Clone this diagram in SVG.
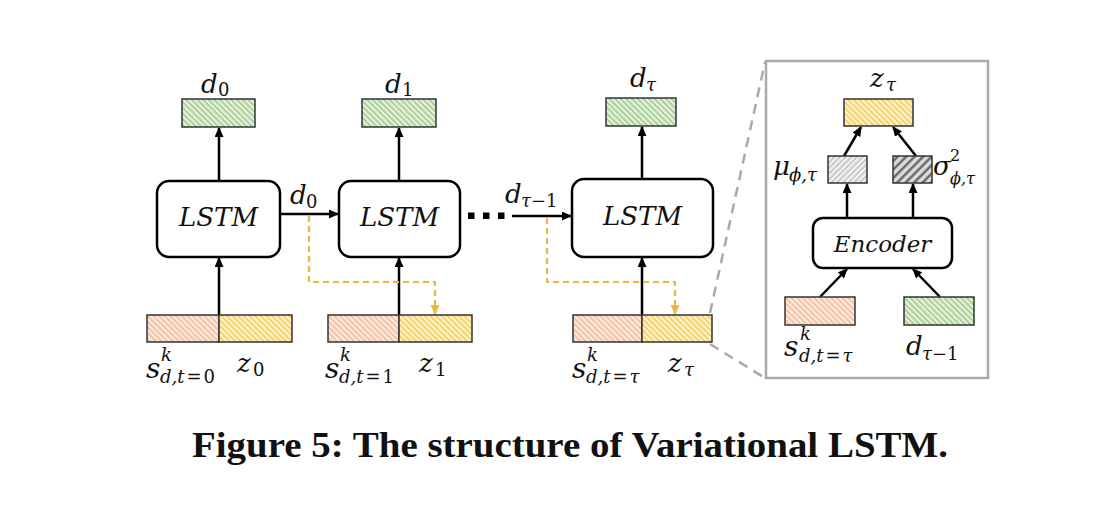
<svg xmlns="http://www.w3.org/2000/svg" width="1110" height="509" viewBox="0 0 1110 509">
<defs>
<pattern id="pGreen" width="4" height="4" patternUnits="userSpaceOnUse" patternTransform="rotate(-45)">
<rect width="4" height="4" fill="#e6f1de"/><line x1="1" y1="0" x2="1" y2="4" stroke="#9cc784" stroke-width="1.5"/></pattern>
<pattern id="pPink" width="4" height="4" patternUnits="userSpaceOnUse" patternTransform="rotate(-45)">
<rect width="4" height="4" fill="#fcebe0"/><line x1="1" y1="0" x2="1" y2="4" stroke="#f0b695" stroke-width="1.5"/></pattern>
<pattern id="pYellow" width="4" height="4" patternUnits="userSpaceOnUse" patternTransform="rotate(-45)">
<rect width="4" height="4" fill="#fff4cf"/><line x1="1" y1="0" x2="1" y2="4" stroke="#f2cd5c" stroke-width="1.7"/></pattern>
<pattern id="pLGray" width="4" height="4" patternUnits="userSpaceOnUse" patternTransform="rotate(45)">
<rect width="4" height="4" fill="#f3f3f3"/><line x1="1" y1="0" x2="1" y2="4" stroke="#bdbdbd" stroke-width="1.5"/></pattern>
<pattern id="pDGray" width="6" height="6" patternUnits="userSpaceOnUse" patternTransform="rotate(45)">
<rect width="6" height="6" fill="#dcdcdc"/><line x1="1.5" y1="0" x2="1.5" y2="6" stroke="#5a5a5a" stroke-width="2.2"/></pattern>
<marker id="ah" markerWidth="10" markerHeight="9" refX="9" refY="4.5" orient="auto" markerUnits="userSpaceOnUse">
<path d="M0,0 L10,4.5 L0,9 Z" fill="#000"/></marker>
<marker id="ahY" markerWidth="10" markerHeight="9" refX="9" refY="4.5" orient="auto" markerUnits="userSpaceOnUse">
<path d="M0,0 L10,4.5 L0,9 Z" fill="#ebb73f"/></marker>
</defs>
<style>
.box{stroke:#333;stroke-width:1.5}
.blk{fill:#fff;stroke:#000;stroke-width:2.5}
.arr{fill:none;stroke:#000;stroke-width:2.5;marker-end:url(#ah)}
.ydash{fill:none;stroke:#ebb73f;stroke-width:2.2;stroke-dasharray:6 4;marker-end:url(#ahY)}
.gdash{fill:none;stroke:#aaa;stroke-width:2.5;stroke-dasharray:10 7}
.m{font-family:"DejaVu Serif",serif;font-style:italic;font-size:26px;fill:#111}
.sb{font-family:"DejaVu Serif",serif;font-style:italic;font-size:18px;fill:#111}
.up{font-style:normal}
.lbl{font-family:"DejaVu Serif",serif;font-style:italic;font-size:26px;fill:#111;text-anchor:middle}
.cap{font-family:"Liberation Serif",serif;font-weight:bold;font-size:36px;fill:#111}
</style>

<g id="connectors">
<line class="arr" x1="219" y1="181" x2="219" y2="128"/>
<line class="arr" x1="219" y1="315" x2="219" y2="258"/>
<line class="arr" x1="399" y1="181" x2="399" y2="128"/>
<line class="arr" x1="399" y1="315" x2="399" y2="258"/>
<line class="arr" x1="642" y1="179" x2="642" y2="127"/>
<line class="arr" x1="642" y1="315" x2="642" y2="258"/>
<line class="arr" x1="280" y1="214" x2="338" y2="214"/>
<line class="arr" x1="512" y1="216" x2="571" y2="216"/>
<polyline class="ydash" points="309,216 309,282 435,282 435,314"/>
<polyline class="ydash" points="547,218 547,282 675,282 675,314"/>
<line class="gdash" x1="710" y1="313" x2="765" y2="62"/>
<line class="gdash" x1="710" y1="344" x2="765" y2="378"/>
<line class="arr" x1="847" y1="218" x2="847" y2="184"/>
<line class="arr" x1="913" y1="218" x2="913" y2="184"/>
<line class="arr" x1="844" y1="156" x2="861" y2="127"/>
<line class="arr" x1="916" y1="156" x2="893" y2="127"/>
<line class="arr" x1="820" y1="297" x2="847" y2="269"/>
<line class="arr" x1="940" y1="297" x2="913" y2="269"/>
</g>

<g id="dots">
<rect x="468" y="212.5" width="6.5" height="6.5" fill="#000"/>
<rect x="483" y="212.5" width="6.5" height="6.5" fill="#000"/>
<rect x="498" y="212.5" width="6.5" height="6.5" fill="#000"/>
</g>

<g id="out0"><rect class="box" x="182" y="99" width="73" height="28" fill="url(#pGreen)"/>
<text class="m" x="201" y="93">d</text><text class="sb up" x="218" y="96">0</text></g>
<g id="out1"><rect class="box" x="362" y="99" width="74" height="28" fill="url(#pGreen)"/>
<text class="m" x="385" y="93">d</text><text class="sb up" x="402" y="96">1</text></g>
<g id="outT"><rect class="box" x="606" y="98" width="70" height="28" fill="url(#pGreen)"/>
<text class="m" x="630" y="87">d</text><text class="sb" x="646" y="91">τ</text></g>

<g id="lstm1"><rect class="blk" x="157" y="181" width="123" height="76" rx="12"/>
<text class="lbl" x="218.5" y="226">LSTM</text></g>
<g id="lstm2"><rect class="blk" x="339" y="181" width="121" height="76" rx="12"/>
<text class="lbl" x="399.5" y="226">LSTM</text></g>
<g id="lstm3"><rect class="blk" x="572" y="179" width="141" height="78" rx="12"/>
<text class="lbl" x="642.5" y="225">LSTM</text></g>

<g id="lbl-d0"><text class="m" x="290" y="204">d</text><text class="sb up" x="306" y="208">0</text></g>
<g id="lbl-dT1"><text class="m" x="505" y="203">d</text><text class="sb" x="521" y="207">τ<tspan class="up">−1</tspan></text></g>

<g id="in0">
<rect class="box" x="147" y="315" width="72" height="27" fill="url(#pPink)"/>
<rect class="box" x="219" y="315" width="73" height="27" fill="url(#pYellow)"/>
<text class="m" x="146" y="378" style="font-size:28px">s</text>
<text class="sb" x="161" y="361">k</text>
<text class="sb" x="160" y="383">d,t<tspan class="up" dx="2">=</tspan><tspan class="up" dx="2">0</tspan></text>
<text class="m" x="237" y="372">z</text><text class="sb up" x="253" y="376">0</text>
</g>
<g id="in1">
<rect class="box" x="328" y="315" width="71" height="27" fill="url(#pPink)"/>
<rect class="box" x="399" y="315" width="73" height="27" fill="url(#pYellow)"/>
<text class="m" x="325" y="378" style="font-size:28px">s</text>
<text class="sb" x="340" y="361">k</text>
<text class="sb" x="339" y="383">d,t<tspan class="up" dx="2">=</tspan><tspan class="up" dx="2">1</tspan></text>
<text class="m" x="419" y="372">z</text><text class="sb up" x="435" y="376">1</text>
</g>
<g id="inT">
<rect class="box" x="573" y="315" width="69" height="27" fill="url(#pPink)"/>
<rect class="box" x="642" y="315" width="70" height="27" fill="url(#pYellow)"/>
<text class="m" x="572" y="378" style="font-size:28px">s</text>
<text class="sb" x="587" y="361">k</text>
<text class="sb" x="586" y="383">d,t<tspan class="up" dx="2">=</tspan><tspan dx="2">τ</tspan></text>
<text class="m" x="668" y="372">z</text><text class="sb" x="684" y="376">τ</text>
</g>

<g id="inset">
<rect x="766" y="61" width="222" height="317" fill="none" stroke="#aaa" stroke-width="2.5"/>
</g>
<g id="zT"><rect class="box" x="844" y="99" width="69" height="27" fill="url(#pYellow)"/>
<text class="m" x="870" y="87">z</text><text class="sb" x="886" y="91">τ</text></g>
<g id="mu"><rect class="box" x="828" y="156" width="39" height="27" fill="url(#pLGray)"/>
<text class="m" x="773" y="175">μ</text><text class="sb" x="789" y="181">ϕ,τ</text></g>
<g id="sigma"><rect class="box" x="893" y="156" width="39" height="27" fill="url(#pDGray)"/>
<text class="m" x="933" y="175">σ</text><text class="sb up" x="950" y="161" style="font-size:16px">2</text><text class="sb" x="950" y="184" style="font-size:16px">ϕ,τ</text></g>
<g id="encoder"><rect class="blk" x="813" y="218" width="139" height="50" rx="10"/>
<text class="lbl" x="882.5" y="252" style="font-size:23px">Encoder</text></g>
<g id="encS"><rect class="box" x="785" y="297" width="70" height="28" fill="url(#pPink)"/>
<text class="m" x="784" y="356" style="font-size:28px">s</text>
<text class="sb" x="800" y="340">k</text>
<text class="sb" x="799" y="362">d,t<tspan class="up" dx="2">=</tspan><tspan dx="2">τ</tspan></text></g>
<g id="encD"><rect class="box" x="904" y="297" width="70" height="28" fill="url(#pGreen)"/>
<text class="m" x="906" y="355">d</text><text class="sb" x="922" y="360">τ<tspan class="up">−1</tspan></text></g>

<text class="cap" x="192" y="457" textLength="756" lengthAdjust="spacingAndGlyphs">Figure 5: The structure of Variational LSTM.</text>
</svg>
